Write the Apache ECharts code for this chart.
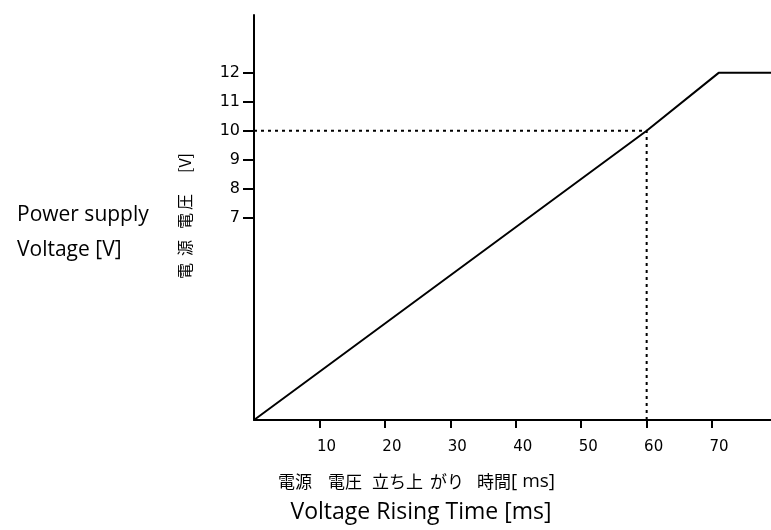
<!DOCTYPE html>
<html><head><meta charset="utf-8">
<script src="https://cdn.jsdelivr.net/npm/echarts@6/dist/echarts.min.js"></script>
<style>html,body{margin:0;padding:0;background:#fff}#c{width:771px;height:530px}</style>
</head><body><div id="c"></div>
<script>
const riseTime = [0, 60, 71, 79];
const voltage = [0, 10, 12, 12];
const refTime = [0, 60, 60];
const refVolt = [10, 10, 0];
const xTicks = [10, 20, 30, 40, 50, 60, 70];
const yTicks = [7, 8, 9, 10, 11, 12];
const yTitleParts = ['電', '源', '電', '圧', '[V]'];
const xTitleParts = ['電源', '電圧', '立ち上', 'がり', '時間', '[ ms]'];

const chart = echarts.init(document.getElementById('c'));
const font = '"DejaVu Sans", Verdana, sans-serif';
const cjk = '"Noto Sans CJK JP", sans-serif';
const latin = '"Open Sans", Tahoma, sans-serif';

const yPartPos = [271, 248, 221, 202, 163];
const xPartPos = [278, 328, 372, 430, 477, 511];

const graphics = [
  { type: 'text', x: 17, y: 215, style: { text: 'Power supply', font: '21px ' + latin, fill: '#000', verticalAlign: 'middle' } },
  { type: 'text', x: 17, y: 250, style: { text: 'Voltage [V]', font: '21px ' + latin, fill: '#000', verticalAlign: 'middle' } },
  { type: 'text', x: 421, y: 512,
    style: { text: 'Voltage Rising Time [ms]', font: '23px ' + latin, fill: '#000', align: 'center', verticalAlign: 'middle' } }
];
yTitleParts.forEach((t, i) => graphics.push({
  type: 'text', x: 185, y: yPartPos[i], rotation: Math.PI / 2,
  style: { text: t, font: '16px ' + cjk, fill: '#000', align: 'center', verticalAlign: 'middle' }
}));
xTitleParts.forEach((t, i) => graphics.push({
  type: 'text', x: xPartPos[i], y: 482,
  style: { text: t, font: (i === 5 ? '19px ' + latin : '17px ' + cjk), fill: '#000', align: 'left', verticalAlign: 'middle' }
}));

chart.setOption({
  animation: false,
  grid: { left: 254, right: 0, top: 15, bottom: 110 },
  xAxis: {
    type: 'value', min: 0, max: 79, interval: 10,
    splitLine: { show: false },
    axisLine: { lineStyle: { color: '#000', width: 2 } },
    axisTick: { customValues: xTicks, length: 8, lineStyle: { color: '#000', width: 2 } },
    axisLabel: { customValues: xTicks, color: '#000', fontFamily: font, fontSize: 15, margin: 20, padding: [0, 0, 0, 14] }
  },
  yAxis: {
    type: 'value', min: 0, max: 14, interval: 1,
    splitLine: { show: false },
    axisLine: { show: true, lineStyle: { color: '#000', width: 2 } },
    axisTick: { show: true, customValues: yTicks, length: 11, lineStyle: { color: '#000', width: 2 } },
    axisLabel: { customValues: yTicks, color: '#000', fontFamily: font, fontSize: 16, margin: 14, padding: [10, 0, 0, 0] }
  },
  series: [
    { type: 'line', data: riseTime.map((t, i) => [t, voltage[i]]), symbol: 'none',
      lineStyle: { color: '#000', width: 2 } },
    { type: 'line', data: refTime.map((t, i) => [t, refVolt[i]]), symbol: 'none',
      lineStyle: { color: '#000', width: 2, type: [3, 4] } }
  ],
  graphic: graphics
});
</script></body></html>
